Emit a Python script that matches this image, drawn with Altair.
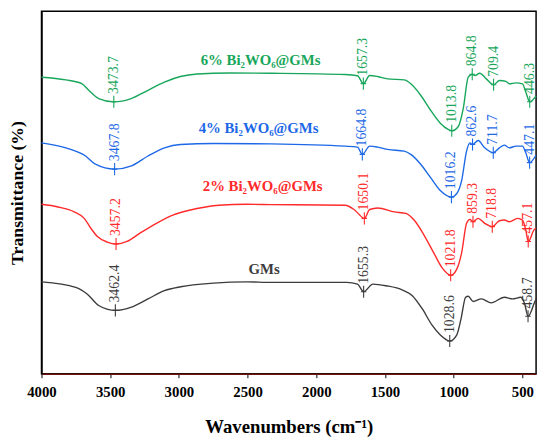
import altair as alt
import numpy as np
import pandas as pd

# ---------------- data ----------------
series_names = ["6% Bi₂WO₆@GMs", "4% Bi₂WO₆@GMs", "2% Bi₂WO₆@GMs", "GMs"]
series_colors = ["#17a65a", "#1c68e6", "#ff2a2a", "#3c3c3c"]

wn_6 = [4000, 3823, 3704, 3656, 3584, 3473.7, 3347, 3225, 3105, 2989, 2867, 2630, 2329, 1790, 1700,
        1657.3, 1611, 1554, 1482, 1360, 1312, 1240, 1169, 1097, 1040, 1013.8, 966, 930, 894, 864.8,
        845, 810, 762, 709.4, 666, 619, 595, 547, 499, 475, 446.3, 400]
t_6 = [301, 298.3, 294.3, 287.7, 279.3, 276, 279.3, 287.7, 296, 301.7, 304.3, 305.3, 305, 303.7, 302.5,
       294.5, 302.7, 301.7, 299.3, 298.3, 294.3, 282.7, 267.7, 254.3, 248, 246.7, 251, 269.3, 301, 304,
       302.7, 305, 299.3, 293.3, 297.7, 296.7, 294.3, 295.3, 294.3, 286, 276, 282]

wn_4 = [4000, 3823, 3679, 3608, 3467.8, 3345, 3225, 3105, 2989, 2747, 2329, 1790, 1700, 1664.8, 1611,
        1552, 1480, 1360, 1312, 1240, 1169, 1097, 1016.2, 978, 942, 906, 882, 862.6, 822, 774, 711.7,
        667, 631, 595, 547, 499, 475, 447.1, 400]
t_4 = [234.3, 229.3, 221, 212.7, 207.7, 211, 221, 229.3, 232.7, 233.7, 233.3, 231, 230, 222.7, 231,
       230, 227.7, 226, 222.7, 212.7, 199.3, 186, 179.3, 182.7, 196, 226, 234.3, 232.7, 236.7, 229.3, 224.3,
       229.3, 232, 229.3, 231, 231, 224.3, 214.3, 222]

wn_2 = [4000, 3880, 3761, 3689, 3641, 3593, 3522, 3457.2, 3378, 3283, 3163, 3044, 2924, 2804, 2709,
        2508, 2329, 1790, 1719, 1650.1, 1611, 1552, 1432, 1348, 1288, 1217, 1145, 1085, 1021.8, 978,
        942, 906, 882, 859.3, 822, 774, 718.8, 667, 631, 595, 535, 499, 475, 457.1, 415, 400]
t_2 = [172, 169.3, 164.3, 157.7, 147.7, 139.3, 133.7, 131.7, 134.3, 142.7, 152.7, 161, 166, 169.3, 171,
       172, 171.7, 171, 166, 157.7, 166.7, 168.3, 164.3, 162.7, 156, 141, 122.7, 107.7, 100, 106,
       122.7, 152.7, 156.7, 154.3, 157.7, 152.7, 149.3, 155.3, 156, 154.3, 157.7, 156, 146, 134.3, 146, 148]

wn_0 = [4000, 3751, 3668, 3584, 3462.4, 3345, 3225, 3105, 2986, 2747, 2508, 2329, 1778, 1700, 1655.3,
        1588, 1491, 1372, 1301, 1229, 1157, 1097, 1028.6, 978, 946, 913, 894, 858, 798, 727, 631, 571,
        511, 483, 458.7, 415, 400]
t_0 = [93.3, 87.7, 81, 69.3, 64.3, 67.7, 76, 84.3, 88.3, 92, 93.3, 92.7, 92.7, 91, 83.3,
       91, 89.3, 85, 79.3, 66, 49.3, 39.3, 33.3, 39.3, 56, 77.7, 78.7, 73.3, 76, 72, 77.7, 76,
       77.7, 71, 58.3, 71, 76]

peaks_6 = [3473.7, 1657.3, 1013.8, 864.8, 709.4, 446.3]
peaks_4 = [3467.8, 1664.8, 1016.2, 862.6, 711.7, 447.1]
peaks_2 = [3457.2, 1650.1, 1021.8, 859.3, 718.8, 457.1]
peaks_0 = [3462.4, 1655.3, 1028.6, 458.7]

name_wn = [2405, 2420, 2390, 2380]
name_t = [313, 244, 186, 101]

x_tick_values = list(range(500, 4001, 250))

# ---------------- tables ----------------
curves = [(wn_6, t_6, peaks_6), (wn_4, t_4, peaks_4), (wn_2, t_2, peaks_2), (wn_0, t_0, peaks_0)]
line_rows, peak_rows = [], []
for name, (wn, tt, pk) in zip(series_names, curves):
    for w, t in zip(wn, tt):
        line_rows.append({"series": name, "wn": w, "T": t})
    wa = np.array(wn[::-1], dtype=float)
    ta = np.array(tt[::-1], dtype=float)
    for p in pk:
        peak_rows.append({"series": name, "wn": p, "T": float(np.interp(p, wa, ta)), "label": f"{p:.1f}"})
lines_df = pd.DataFrame(line_rows)
peaks_df = pd.DataFrame(peak_rows)
names_df = pd.DataFrame({"series": series_names, "wn": name_wn, "T": name_t})

FONT = "Liberation Serif"
color = alt.Color("series:N", scale=alt.Scale(domain=series_names, range=series_colors), legend=None)

x_enc = alt.X("wn:Q", scale=alt.Scale(domain=[4000, 400], nice=False, zero=False),
              axis=alt.Axis(values=x_tick_values, format="d",
                            labelExpr="datum.value % 500 == 0 ? datum.label : ''",
                            title="Wavenumbers (cm⁻¹)", grid=False, tickSize=4,
                            tickColor="#000000", domainColor="#6b1515", domainWidth=1.5,
                            labelFont=FONT, labelFontSize=15, labelFontWeight="bold",
                            labelColor="#000000", labelPadding=7, labelFlush=False,
                            titleFont=FONT, titleFontSize=19, titleFontWeight="bold",
                            titleColor="#000000", titlePadding=19))
y_enc = alt.Y("T:Q", scale=alt.Scale(domain=[0, 368], nice=False, zero=False),
              axis=alt.Axis(labels=False, ticks=False, grid=False, title="Transmittance (%)",
                            domainColor="#000000", domainWidth=1.5,
                            titleFont=FONT, titleFontSize=18, titleFontWeight="bold",
                            titleColor="#000000", titlePadding=15))

lines = alt.Chart(lines_df).mark_line(interpolate="monotone", strokeWidth=1.4).encode(
    x=x_enc, y=y_enc, color=color, detail="series:N")

markers = alt.Chart(peaks_df).mark_point(
    shape="M-0.45,0L0.45,0M0,-1L0,1", filled=False, size=150, strokeWidth=1.1, opacity=1
).encode(x="wn:Q", y="T:Q", color=color)

peak_text = alt.Chart(peaks_df).mark_text(
    angle=270, align="left", baseline="middle", dx=8, font=FONT, fontSize=14
).encode(x="wn:Q", y="T:Q", text="label:N", color=color)

name_text = alt.Chart(names_df).mark_text(
    align="center", baseline="alphabetic", font=FONT, fontSize=15, fontWeight="bold"
).encode(x="wn:Q", y="T:Q", text="series:N", color=color)

chart = alt.layer(lines, markers, peak_text, name_text).properties(
    width=502, height=368,
    padding={"left": 34, "top": 0, "right": 6, "bottom": 64},
    autosize=alt.AutoSizeParams(type="none"),
    background="#ffffff",
).configure_view(stroke="#000000", strokeWidth=1.5)

chart.save("out.html", embed_options={"renderer": "svg", "actions": False})
